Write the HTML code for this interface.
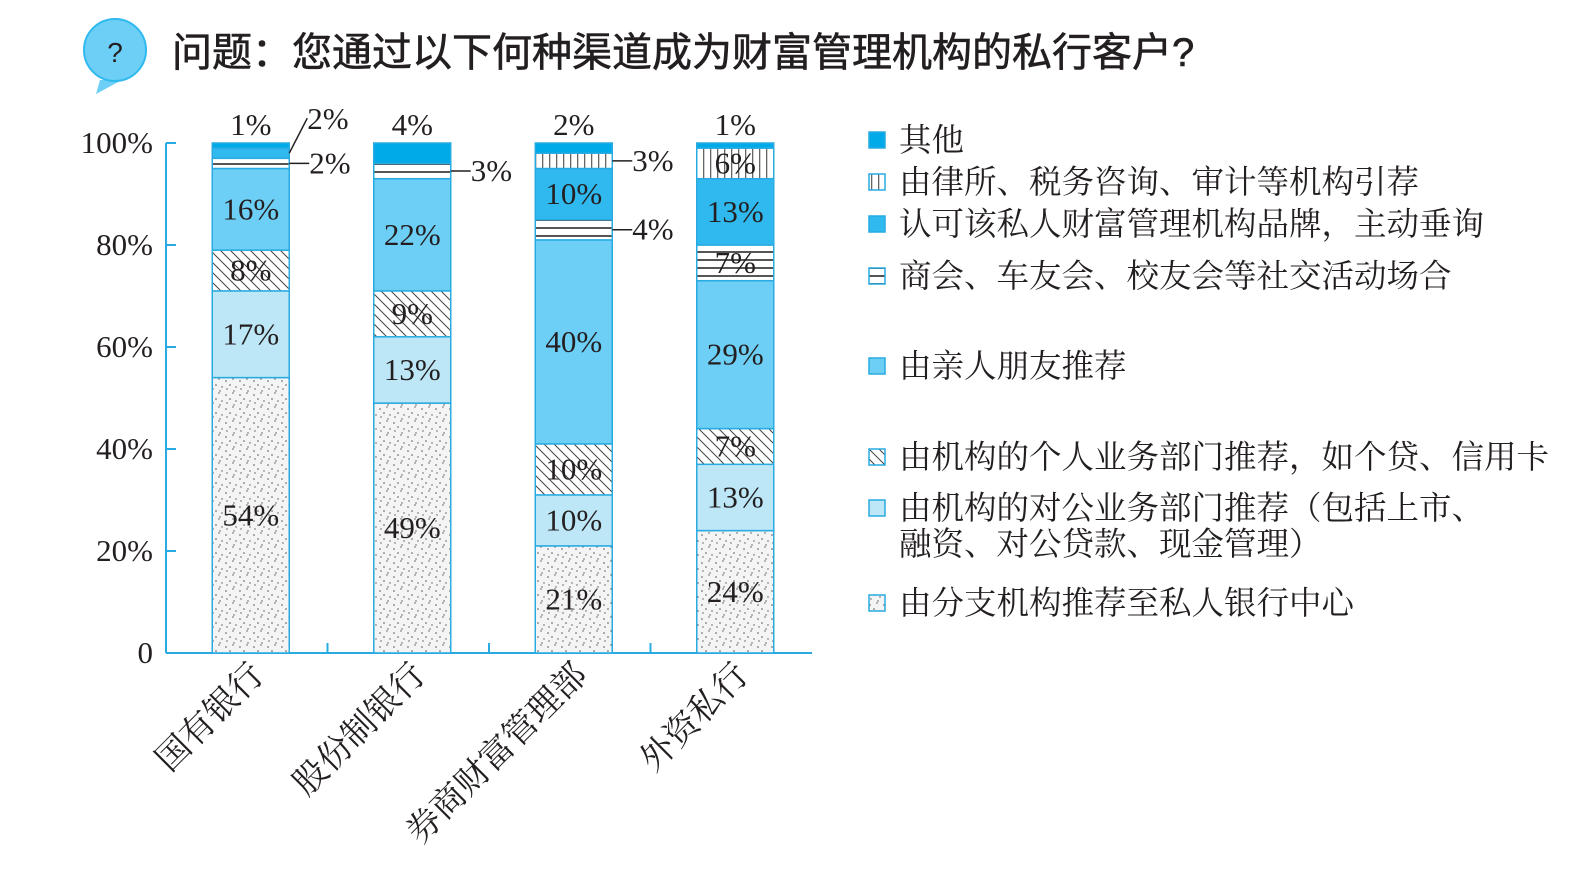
<!DOCTYPE html>
<html><head><meta charset="utf-8">
<style>
html,body{margin:0;padding:0;background:#fff;}
svg{display:block;}
.num{font-family:"Liberation Serif","Noto Serif CJK SC",serif;font-size:31px;fill:#231f20;}
.leg{font-family:"Liberation Serif","Noto Serif CJK SC",serif;font-size:32.5px;fill:#231f20;}
.cat{font-family:"Liberation Serif","Noto Serif CJK SC",serif;font-size:34px;fill:#231f20;}
.title{font-family:"Liberation Sans","Noto Sans CJK SC",sans-serif;font-size:40px;fill:#231f20;stroke:#231f20;stroke-width:0.6;}
</style></head>
<body>
<svg id="chart" width="1588" height="883" viewBox="0 0 1588 883" xmlns="http://www.w3.org/2000/svg">
<defs>
<pattern id="p-dots" width="14" height="14" patternUnits="userSpaceOnUse">
<rect width="14" height="14" fill="#f4f4f4"/>
<circle cx="2" cy="3" r="0.8" fill="#555"/><circle cx="9" cy="1" r="0.7" fill="#555"/>
<circle cx="6" cy="7" r="0.8" fill="#555"/><circle cx="12" cy="9" r="0.7" fill="#555"/>
<circle cx="3" cy="11" r="0.7" fill="#555"/><circle cx="10" cy="13" r="0.7" fill="#555"/>
</pattern>
<pattern id="p-diag" width="10" height="10" patternUnits="userSpaceOnUse">
<rect width="10" height="10" fill="#fff"/>
<path d="M0,0 L10,10 M-5,5 L5,15 M5,-5 L15,5" stroke="#444" stroke-width="1"/>
</pattern>
<pattern id="p-hor" width="10" height="8" patternUnits="userSpaceOnUse">
<rect width="10" height="8" fill="#fff"/>
<rect y="3" width="10" height="2" fill="#555"/>
</pattern>
<pattern id="p-ver" width="7" height="10" patternUnits="userSpaceOnUse">
<rect width="7" height="10" fill="#fff"/>
<rect x="3" width="1.3" height="10" fill="#666"/>
</pattern>
</defs>

<g>
<path d="M100,80 L96,94 L122,80 Z" fill="#6dcff6"/>
<circle cx="115" cy="50" r="31" fill="#6dcff6" stroke="#2fb9ee" stroke-width="2"/>
<text x="115" y="62" text-anchor="middle" font-family="Liberation Sans,sans-serif" font-size="28" fill="#231f20">?</text>
<text x="172" y="66" class="title">问题：您通过以下何种渠道成为财富管理机构的私行客户?</text>
</g>

<g id="axes"></g>
<g id="bars"></g>
<g id="legend"></g>
</svg>
<script>
const categories = ["国有银行","股份制银行","券商财富管理部","外资私行"];
const seriesNames = ["由分支机构推荐至私人银行中心","由机构的对公业务部门推荐","由机构的个人业务部门推荐","由亲人朋友推荐","商会、车友会、校友会等社交活动场合","认可该私人财富管理机构品牌","由律所、税务咨询、审计等机构引荐","其他"];
const sBranch = [54,49,21,24];
const sCorporate = [17,13,10,13];
const sPersonal = [8,9,10,7];
const sFriends = [16,22,40,29];
const sSocial = [2,3,4,7];
const sBrand = [2,0,10,13];
const sLaw = [0,0,3,6];
const sOther = [1,4,2,1];
const yTicks = [0,20,40,60,80,100];
const yTickLabels = ["0","20%","40%","60%","80%","100%"];

const series = [sBranch,sCorporate,sPersonal,sFriends,sSocial,sBrand,sLaw,sOther];
const fills = ["url(#p-dots)","#bde7f7","url(#p-diag)","#6dcff6","url(#p-hor)","#2fb9ee","url(#p-ver)","#00a9e8"];
const sKeys = ["branch","corporate","personal","friends","social","brand","law","other"];
const NS="http://www.w3.org/2000/svg";
const X0=166, X1=812, Y0=653, Y100=143;
const y = v => Y0 - (Y0-Y100)*v/100;
const step=(X1-X0)/categories.length;
const xc = i => X0 + step*(i+0.5) + 4;
const BW=77;
function mk(tag, attrs, parent, txt){const e=document.createElementNS(NS,tag);for(const k in attrs)e.setAttribute(k,attrs[k]);if(txt!==undefined)e.textContent=txt;parent.appendChild(e);return e;}

const axes=document.getElementById('axes');
let e=mk('line',{x1:X0,y1:Y100,x2:X0,y2:Y0,stroke:'#29abe2','stroke-width':2},axes);


e=mk('line',{x1:X0,y1:Y0,x2:X1,y2:Y0,stroke:'#29abe2','stroke-width':2},axes);


yTicks.forEach((t,i)=>{
  const tk=mk('line',{x1:X0,y1:y(t),x2:X0+10,y2:y(t),stroke:'#29abe2','stroke-width':2},axes);
  
  
  const tl=mk('text',{x:153,y:y(t)+10,'text-anchor':'end',class:'num'},axes,yTickLabels[i]);
  
  
});
for(let i=1;i<categories.length;i++){
  const tk=mk('line',{x1:X0+step*i,y1:Y0,x2:X0+step*i,y2:Y0-10,stroke:'#29abe2','stroke-width':2},axes);
  
  
}
categories.forEach((c,i)=>{
  const cx=xc(i)+15, cy=Y0+24;
  const t=mk('text',{x:cx,y:cy,'text-anchor':'end',class:'cat',transform:`rotate(-45 ${cx} ${cy})`},axes,c);
  
  
});

const bars=document.getElementById('bars');
categories.forEach((c,i)=>{
  let cum=0; let lastRightY=null;
  const g=mk('g',{},bars);
  
  
  let topIdx=-1; series.forEach((s,k)=>{if(s[i]>0)topIdx=k;});
  series.forEach((s,k)=>{
    const v=s[i]; if(v<=0) return;
    const y1=y(cum+v), y2=y(cum);
    const r=mk('rect',{x:xc(i)-BW/2,y:y1,width:BW,height:y2-y1,fill:fills[k],stroke:'#29abe2','stroke-width':1.5},g);
    
    
    const lab=v+'%'; const my=(y1+y2)/2;
    if(v>=6){
      const t=mk('text',{x:xc(i),y:my+10,'text-anchor':'middle',class:'num'},g,lab);
      
      
    } else if(k===topIdx){
      const t=mk('text',{x:xc(i),y:y1-8,'text-anchor':'middle',class:'num'},g,lab);
      
      
    } else {
      const bx=xc(i)+BW/2;
      let ly=my;
      if(lastRightY!==null && lastRightY-my<28){
        ly=my-27;
        const ln=mk('line',{x1:bx,y1:my,x2:bx+18,y2:ly-8,stroke:'#231f20','stroke-width':1.5},g);
        
        
        const t=mk('text',{x:bx+18,y:ly+3,class:'num'},g,lab);
        
        
      } else {
        const ln=mk('line',{x1:bx,y1:my,x2:bx+20,y2:my,stroke:'#231f20','stroke-width':1.5},g);
        
        
        const t=mk('text',{x:bx+20,y:my+10,class:'num'},g,lab);
        
        
      }
      lastRightY=ly;
    }
    cum+=v;
  });
});

const legend=document.getElementById('legend');
const legY=[140,182,224,276,366,457,508,603];
const legendOrder=[7,6,5,4,3,2,1,0];
legendOrder.forEach((k,j)=>{
  const yy=legY[j];
  const g=mk('g',{},legend);
  
  
  const r=mk('rect',{x:869,y:yy-8,width:16,height:16,fill:fills[k],stroke:'#29abe2','stroke-width':1.5},g);
  
  
  let name=seriesNames[k];
  if(k===5) name="认可该私人财富管理机构品牌，主动垂询";
  if(k===2) name="由机构的个人业务部门推荐，如个贷、信用卡";
  if(k===1){
    const t=mk('text',{x:899,y:yy+11,class:'leg'},g,"由机构的对公业务部门推荐（包括上市、");
    
    
    const t2=mk('text',{x:899,y:yy+47,class:'leg'},g,"融资、对公贷款、现金管理）");
    
    
  } else {
    const t=mk('text',{x:899,y:yy+11,class:'leg'},g,name);
    
    
  }
});
</script>
</body></html>
